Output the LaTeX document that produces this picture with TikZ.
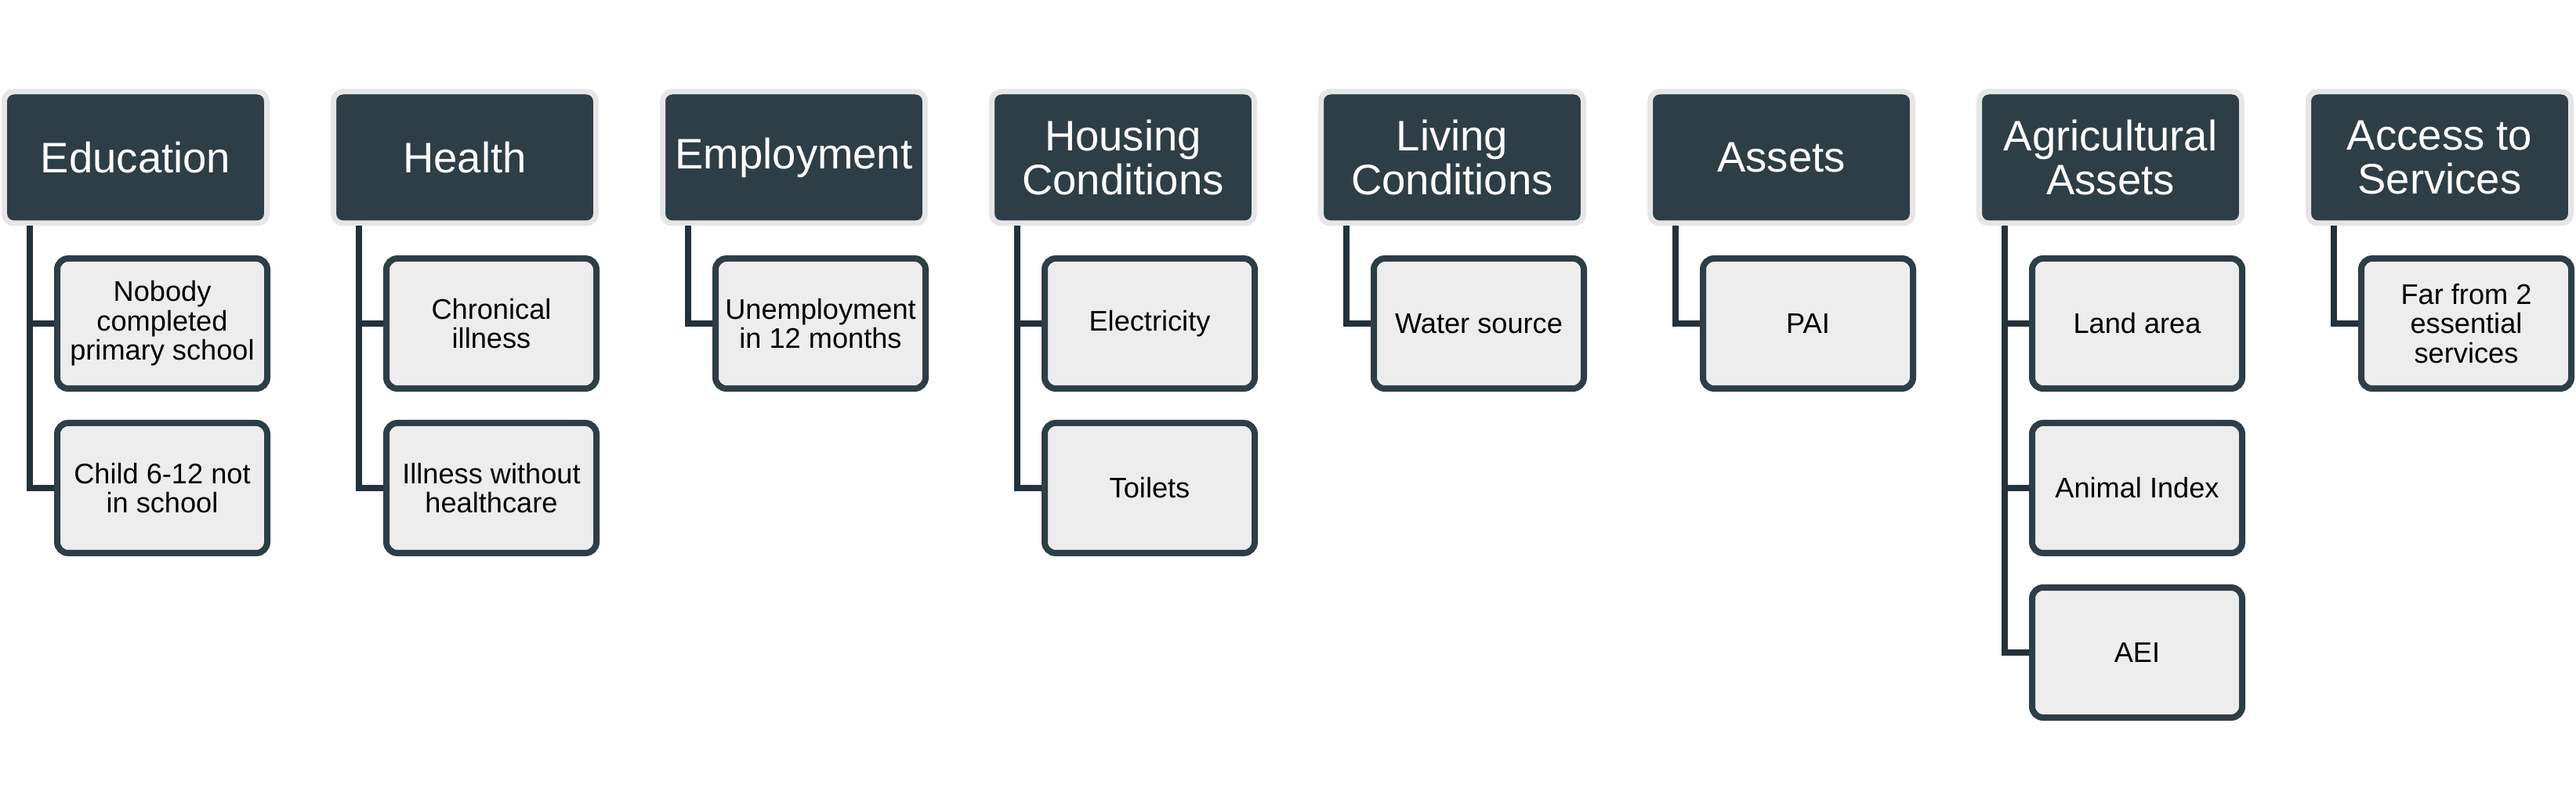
\documentclass[tikz,border=0pt]{standalone}
\usepackage{fontspec}
\setmainfont{Liberation Sans}
\definecolor{hdark}{HTML}{2D3E47}
\definecolor{halo}{HTML}{E6E6E6}
\definecolor{cfill}{HTML}{EDEDED}
\definecolor{cline}{HTML}{23313A}
\begin{document}
\begin{tikzpicture}[
  hdr/.style={rectangle, rounded corners=0.12cm, fill=hdark, draw=halo, line width=0.07cm,
    minimum width=3.35cm, minimum height=1.68cm, inner sep=0pt, align=center, text=white,
    font=\fontsize{15.5}{16.1}\selectfont},
  leaf/.style={rectangle, rounded corners=0.14cm, fill=cfill, draw=hdark, line width=0.08cm,
    minimum width=2.68cm, minimum height=1.66cm, inner sep=0pt, align=center,
    font=\fontsize{10.3}{10.7}\selectfont},
  conn/.style={draw=cline, line width=0.08cm, line join=miter}
]
\useasboundingbox (0,0) rectangle (32.87,-10.34);
% connector spine coordinates
\foreach \i in {0,...,7}{\coordinate (v\i) at ({0.38+4.2*\i},0);}
% headers
\node[hdr] (h0) at ({1.73+4.2*0},-2.01) {Education};
\node[hdr] (h1) at ({1.73+4.2*1},-2.01) {Health};
\node[hdr] (h2) at ({1.73+4.2*2},-2.01) {Employment};
\node[hdr] (h3) at ({1.73+4.2*3},-2.01) {Housing\\Conditions};
\node[hdr] (h4) at ({1.73+4.2*4},-2.01) {Living\\Conditions};
\node[hdr] (h5) at ({1.73+4.2*5},-2.01) {Assets};
\node[hdr] (h6) at ({1.73+4.2*6},-2.01) {Agricultural\\Assets};
\node[hdr] (h7) at ({1.73+4.2*7},-2.01) {Access to\\Services};
% leaves
\node[leaf] (c00) at ({2.07+4.2*0},-4.13) {Nobody\\completed\\primary school};
\node[leaf] (c01) at ({2.07+4.2*0},-6.23) {Child 6-12 not\\in school};
\node[leaf] (c10) at ({2.07+4.2*1},-4.13) {Chronical\\illness};
\node[leaf] (c11) at ({2.07+4.2*1},-6.23) {Illness without\\healthcare};
\node[leaf] (c20) at ({2.07+4.2*2},-4.13) {Unemployment\\in 12 months};
\node[leaf] (c30) at ({2.07+4.2*3},-4.13) {Electricity};
\node[leaf] (c31) at ({2.07+4.2*3},-6.23) {Toilets};
\node[leaf] (c40) at ({2.07+4.2*4},-4.13) {Water source};
\node[leaf] (c50) at ({2.07+4.2*5},-4.13) {PAI};
\node[leaf] (c60) at ({2.07+4.2*6},-4.13) {Land area};
\node[leaf] (c61) at ({2.07+4.2*6},-6.23) {Animal Index};
\node[leaf] (c62) at ({2.07+4.2*6},-8.33) {AEI};
\node[leaf] (c70) at ({2.07+4.2*7},-4.13) {Far from 2\\essential\\services};
% connectors
\draw[conn] (v0 |- h0.south) |- (c01.west);
\draw[conn] (v0 |- c00.west) -- (c00.west);
\draw[conn] (v1 |- h1.south) |- (c11.west);
\draw[conn] (v1 |- c10.west) -- (c10.west);
\draw[conn] (v2 |- h2.south) |- (c20.west);
\draw[conn] (v3 |- h3.south) |- (c31.west);
\draw[conn] (v3 |- c30.west) -- (c30.west);
\draw[conn] (v4 |- h4.south) |- (c40.west);
\draw[conn] (v5 |- h5.south) |- (c50.west);
\draw[conn] (v6 |- h6.south) |- (c62.west);
\draw[conn] (v6 |- c60.west) -- (c60.west);
\draw[conn] (v6 |- c61.west) -- (c61.west);
\draw[conn] (v7 |- h7.south) |- (c70.west);
\end{tikzpicture}
\end{document}
